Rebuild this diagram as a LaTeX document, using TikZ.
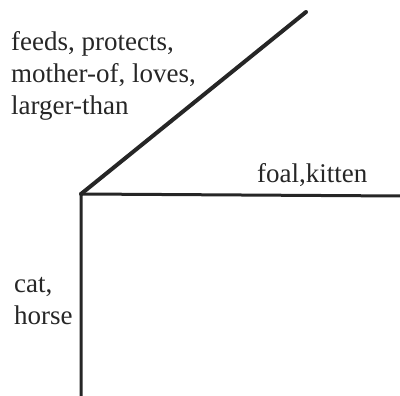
\documentclass[tikz,border=0pt]{standalone}
\usepackage{fontspec}
\setmainfont{Liberation Serif}
\begin{document}
\begin{tikzpicture}[x=1pt,y=1pt,
  lbl/.style={anchor=base west,inner sep=0pt,font=\fontsize{27}{32}\selectfont,text=black!85},
  axis/.style={draw=black!85,line width=3pt},
  diag/.style={draw=black!85,line width=4pt,line cap=round}]
\useasboundingbox (0,0) rectangle (400,396);
\coordinate (o) at (81,202);
\coordinate (d) at (306,384);
\coordinate (h) at (400,200);
\coordinate (v) at (81,0);
\draw[diag] (o) -- (d);
\draw[axis] (h) -- (o) -- (v);
\node[lbl,align=left] (rel) at (11,345) {feeds, protects,};
\node[lbl] (rel2) at (11,313) {mother-of, loves,};
\node[lbl] (rel3) at (11,281) {larger-than};
\node[lbl] (fk) at (257,213) {foal,kitten};
\node[lbl] (cat) at (14,103) {cat,};
\node[lbl] (horse) at (14,71) {horse};
\end{tikzpicture}
\end{document}
